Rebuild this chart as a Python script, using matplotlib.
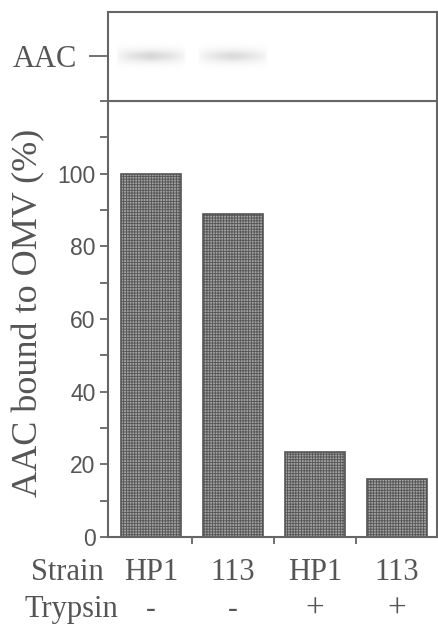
import numpy as np
import matplotlib
matplotlib.use("Agg")
import matplotlib.pyplot as plt
from matplotlib.ticker import MultipleLocator
import matplotlib.transforms as mtransforms

# data
strains = ["HP1", "113", "HP1", "113"]
trypsin = ["-", "-", "+", "+"]
aac_bound = [100, 89, 23.5, 16]
band_density = [0.26, 0.24, 0.0, 0.0]

GRAY = "#666666"
TXT = "#555555"
plt.rcParams['hatch.color'] = "#5a5a5a"
plt.rcParams['hatch.linewidth'] = 0.6

fig = plt.figure(figsize=(4.39, 6.30), dpi=100)
ax = fig.add_axes([0.246, 0.1476, 0.749, 0.6921])
ax_top = fig.add_axes([0.246, 0.8397, 0.749, 0.1413])

x = np.arange(len(strains))
ax.bar(x, aac_bound, width=0.73, color="#a0a0a0", edgecolor="#555555",
       linewidth=1.2, hatch="++++++")
ax.set_xlim(-0.524, 3.49)
ax.set_ylim(0, 120)
ax.yaxis.set_minor_locator(MultipleLocator(10))
ax.set_yticks(range(0, 101, 20))
ax.tick_params(axis="y", which="both", direction="out", length=6, width=1.3,
               color=GRAY, labelsize=16.5, labelcolor=TXT, pad=3)
ax.set_xticks([0.5, 1.5, 2.5])
ax.set_xticklabels([])
ax.tick_params(axis="x", direction="out", length=5, width=1.3, color=GRAY)
for lbl in ax.get_yticklabels():
    lbl.set_family("Liberation Sans")
for sp in ax.spines.values():
    sp.set_color(GRAY)
    sp.set_linewidth(1.5)
ax.set_ylabel("AAC bound to OMV (%)", family="Liberation Serif", fontsize=26,
              color=TXT)
ax.yaxis.set_label_coords(-0.19, 0.515)

# category rows under the bars
trans = mtransforms.blended_transform_factory(ax.transData, fig.transFigure)
for xi, s, t in zip(x, strains, trypsin):
    ax.text(xi, 1 - 573 / 630, s, transform=trans, ha="center", va="center",
            family="Liberation Serif", fontsize=22, color=TXT)
    ax.text(xi, 1 - 610 / 630, t, transform=trans, ha="center", va="center",
            family="Liberation Serif", fontsize=24 if t == "+" else 21,
            color=TXT)
fig.text(104 / 439, 1 - 573 / 630, "Strain", ha="right", va="center",
         family="Liberation Serif", fontsize=22, color=TXT)
fig.text(118 / 439, 1 - 610 / 630, "Trypsin", ha="right", va="center",
         family="Liberation Serif", fontsize=22, color=TXT)

# blot panel
ax_top.set_xlim(-0.524, 3.49)
ax_top.set_ylim(0, 1)
xs = np.linspace(-0.524, 3.49, 400)
ys = np.linspace(0, 1, 80)
XX, YY = np.meshgrid(xs, ys)
img = np.zeros_like(XX)
for xi, d in zip(x, band_density):
    lane = np.clip(1 - np.abs(XX - xi) / 0.42, 0, 1) ** 0.4
    img += d * lane * np.exp(-((YY - 0.5) / 0.08) ** 2)
ax_top.imshow(img, extent=(-0.524, 3.49, 0, 1), origin="lower", cmap="Greys",
              vmin=0, vmax=1, aspect="auto", interpolation="bilinear")
ax_top.set_xticks([])
ax_top.set_yticks([0.5])
ax_top.set_yticklabels(["AAC"], family="Liberation Serif", fontsize=22,
                       color=TXT)
ax_top.tick_params(axis="y", direction="out", length=14, width=1.3, color=GRAY,
                   pad=8)
for sp in ax_top.spines.values():
    sp.set_color(GRAY)
    sp.set_linewidth(1.5)

fig.savefig("out.png", dpi=100)
